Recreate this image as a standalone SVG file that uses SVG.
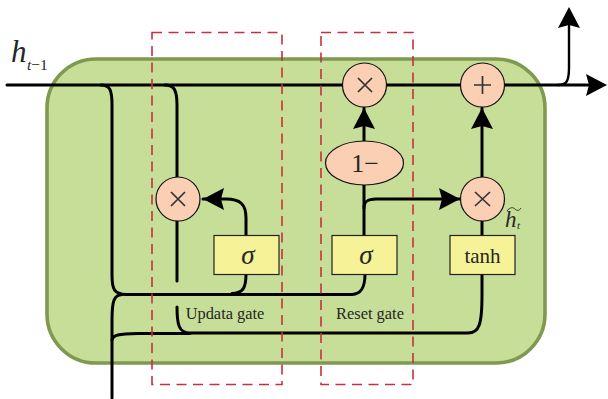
<svg xmlns="http://www.w3.org/2000/svg" width="608" height="399" viewBox="0 0 608 399">
<style>
.t{font-family:"Liberation Serif","Times New Roman",serif;fill:#262626}
.c{fill:none;stroke:#000;stroke-width:3;stroke-linecap:round}
.op{fill:#fbcfb4;stroke:#111;stroke-width:1.2}
.box{fill:#f6f297;stroke:#222;stroke-width:1.2}
.gate{fill:none;stroke:#c8303c;stroke-width:1.6;stroke-dasharray:10 6.5}
.sym{fill:none;stroke:#333;stroke-width:1.7}
</style>
<defs>
<marker id="a" markerUnits="userSpaceOnUse" markerWidth="24" markerHeight="24" refX="21" refY="11" orient="auto"><path d="M0 0L21 11L0 22L3 11Z" fill="#000"/></marker>
</defs>
<rect id="cell" x="47" y="59" width="498" height="304" rx="49" ry="49" fill="#c6de97" stroke="#7f9a50" stroke-width="3.600"/>
<g id="connectors">
<path class="c" d="M7 85H590"/>
<path d="M586 85H607" fill="none" marker-end="url(#a)"/>
<path class="c" style="stroke-width:2.400" d="M558 85C566 85 569 82 569 68V26"/>
<path d="M569 30V7" fill="none" marker-end="url(#a)"/>
<path class="c" d="M101 85C110 85 112 90 112 105V275C112 289 114 294 126 294.500H352C361 294 365 288 365 274"/>
<path class="c" d="M165 85C174 85 177 90 177 105V177"/>
<path class="c" d="M177 219V281"/>
<path class="c" d="M122 294.500C114 295 112 301 112 320V398"/>
<path class="c" d="M246 274C246 288 243 293 232 293.500"/>
<path class="c" d="M177 307C177 325 179 333 190 333H468C479 333 482 325 482 295V274"/>
<path class="c" d="M112 340C113 335 118 334 138 333.500H190"/>
<path class="c" d="M246 235V218C246 204 240 199 226 199H203" marker-end="url(#a)"/>
<path class="c" d="M364 185V235"/>
<path class="c" d="M364 208C364 201 368 199 376 199H460" marker-end="url(#a)"/>
<path class="c" d="M364 142V108" marker-end="url(#a)"/>
<path class="c" d="M482 177V108" marker-end="url(#a)"/>
<path class="c" d="M482 219V235"/>
</g>
<g id="gate-update"><rect class="gate" x="152" y="32.500" width="130" height="352"/><text class="t" x="225" y="319" font-size="16.400" text-anchor="middle">Updata gate</text></g>
<g id="gate-reset"><rect class="gate" x="321" y="32.500" width="92" height="352"/><text class="t" x="370" y="319" font-size="16.400" text-anchor="middle">Reset gate</text></g>
<g id="label-h"><text class="t" x="11" y="62" font-size="31" font-style="italic">h</text><text class="t" x="27" y="70" font-size="15.500" font-style="italic">t<tspan font-style="normal">−1</tspan></text></g>
<g id="mul1"><circle class="op" cx="178" cy="199" r="22"/><path class="sym" d="M171 192L185 206M185 192L171 206"/></g>
<g id="mul2"><circle class="op" cx="364.500" cy="85" r="22"/><path class="sym" d="M358 78L372 92M372 78L358 92"/></g>
<g id="add"><circle class="op" cx="482.500" cy="85" r="22"/><path class="sym" d="M474 85H491M482.500 76V94"/></g>
<g id="mul3"><circle class="op" cx="482.500" cy="199" r="22"/><path class="sym" d="M475 192L490 206M490 192L475 206"/></g>
<g id="one-minus"><ellipse class="op" cx="364.500" cy="163" rx="39" ry="22"/><text class="t" x="365" y="172" font-size="26" text-anchor="middle">1−</text></g>
<g id="sigma1"><rect class="box" x="214" y="235.500" width="65" height="39"/><text class="t" x="248" y="264" font-size="27" font-style="italic" text-anchor="middle">σ</text></g>
<g id="sigma2"><rect class="box" x="332" y="235.500" width="65" height="39"/><text class="t" x="366" y="264" font-size="27" font-style="italic" text-anchor="middle">σ</text></g>
<g id="tanh"><rect class="box" x="450" y="235.500" width="65" height="39"/><text class="t" x="482.500" y="263" font-size="21" text-anchor="middle">tanh</text></g>
<g id="label-ht"><text class="t" x="505" y="227" font-size="23" font-style="italic">h</text><text class="t" x="517" y="229" font-size="11" font-style="italic">t</text><path d="M507 211C510 207 513 207 515 209C517 211 519 211 521 208" fill="none" stroke="#333" stroke-width="1"/></g>
</svg>
